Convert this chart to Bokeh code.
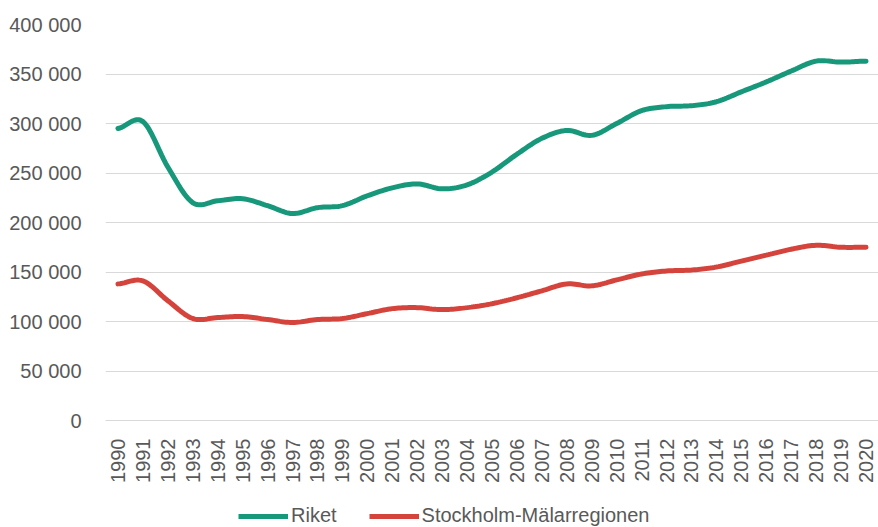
import numpy as np
from bokeh.plotting import figure
from bokeh.layouts import column
from bokeh.models import Range1d, FixedTicker, Legend, LegendItem
from bokeh.embed import file_html
from bokeh.resources import INLINE

years = list(range(1990, 2021))
riket = [295000, 302000, 256000, 220000, 222000, 224000, 217000, 209000, 215000, 217000,
         227000, 235000, 239000, 234000, 238000, 251000, 269000, 285000, 293000, 288000,
         300000, 313000, 317000, 318000, 322000, 332000, 342000, 353000, 363000, 362000, 363000]
stockholm = [138000, 141000, 121000, 103000, 104000, 105000, 102000, 99000, 102000, 103000,
             108000, 113000, 114000, 112000, 114000, 118000, 124000, 131000, 138000, 136000,
             142000, 148000, 151000, 152000, 155000, 161000, 167000, 173000, 177000, 175000, 175000]
series_names = ["Riket", "Stockholm-Mälarregionen"]
y_ticks = [0, 50000, 100000, 150000, 200000, 250000, 300000, 350000, 400000]
y_tick_labels = ["0", "50 000", "100 000", "150 000", "200 000", "250 000", "300 000", "350 000", "400 000"]

GREEN = "#17987a"
RED = "#d5443c"
TXT = "#595959"
GRID = "#d9d9d9"
FONT = "Liberation Sans"


def smooth(xs, ys, n=12):
    """Catmull-Rom curve through the data points (for drawing a smoothed line)."""
    xs = np.asarray(xs, float)
    ys = np.asarray(ys, float)
    px = np.concatenate([[2 * xs[0] - xs[1]], xs, [2 * xs[-1] - xs[-2]]])
    py = np.concatenate([[ys[0]], ys, [ys[-1]]])
    ox, oy = [], []
    t = np.linspace(0, 1, n, endpoint=False)
    for i in range(1, len(px) - 2):
        for P, out in ((px, ox), (py, oy)):
            p0, p1, p2, p3 = P[i - 1], P[i], P[i + 1], P[i + 2]
            out.extend(0.5 * ((2 * p1) + (-p0 + p2) * t + (2 * p0 - 5 * p1 + 4 * p2 - p3) * t ** 2
                              + (-p0 + 3 * p1 - 3 * p2 + p3) * t ** 3))
    ox.append(xs[-1])
    oy.append(ys[-1])
    return ox, oy


W = 878
p = figure(width=W, height=490, output_backend="svg", toolbar_location=None,
           x_range=Range1d(years[0] - 0.5, years[-1] + 0.5),
           y_range=Range1d(0, 400000))
p.min_border_left = 105
p.min_border_top = 24
p.min_border_right = 0
p.min_border_bottom = 70
p.outline_line_color = None
p.background_fill_color = "white"
p.border_fill_color = "white"

gx, gy = smooth(years, riket)
rx, ry = smooth(years, stockholm)
p.line(gx, gy, line_color=GREEN, line_width=5, line_cap="round")
p.line(rx, ry, line_color=RED, line_width=5, line_cap="round")

# axes
p.xaxis.ticker = FixedTicker(ticks=years)
p.xaxis.major_label_orientation = np.pi / 2
p.xaxis.major_label_overrides = {y: str(y) for y in years}
p.xaxis.major_tick_line_color = None
p.xaxis.minor_tick_line_color = None
p.xaxis.axis_line_color = GRID
p.xaxis.axis_line_width = 1
p.xaxis.major_label_standoff = 12

p.yaxis.ticker = FixedTicker(ticks=y_ticks)
p.yaxis.major_label_overrides = {v: l for v, l in zip(y_ticks, y_tick_labels)}
p.yaxis.major_tick_line_color = None
p.yaxis.minor_tick_line_color = None
p.yaxis.axis_line_color = None
p.yaxis.major_label_standoff = 18

for ax in (p.xaxis[0], p.yaxis[0]):
    ax.major_label_text_font = FONT
    ax.major_label_text_font_size = "20px"
    ax.major_label_text_color = TXT

p.xgrid.grid_line_color = None
p.ygrid.ticker = FixedTicker(ticks=y_ticks)
p.ygrid.grid_line_color = GRID
p.ygrid.grid_line_width = 1

# legend strip below the chart (its frame is aligned with the chart frame above)
lg = figure(width=W, height=37, output_backend="svg", toolbar_location=None,
            x_range=Range1d(0, 1), y_range=Range1d(0, 1),
            x_axis_location=None, y_axis_location=None)
lg.min_border = 0
lg.outline_line_color = None
lg.grid.grid_line_color = None
lg.border_fill_color = "white"
d1 = lg.line([5, 6], [5, 6], line_color=GREEN, line_width=5)
d2 = lg.line([5, 6], [5, 6], line_color=RED, line_width=5)
legend = Legend(items=[LegendItem(label=series_names[0], renderers=[d1]),
                       LegendItem(label=series_names[1], renderers=[d2])],
                orientation="horizontal", location=(133, 0))
legend.label_text_font = FONT
legend.label_text_font_size = "20px"
legend.label_text_color = TXT
legend.glyph_width = 50
legend.glyph_height = 20
legend.label_height = 20
legend.label_standoff = 3
legend.spacing = 32
legend.border_line_color = None
legend.background_fill_alpha = 0
legend.padding = 0
legend.margin = 0
lg.add_layout(legend, "center")

layout = column(p, lg, spacing=0)
open("out.html", "w").write(file_html(layout, INLINE))
